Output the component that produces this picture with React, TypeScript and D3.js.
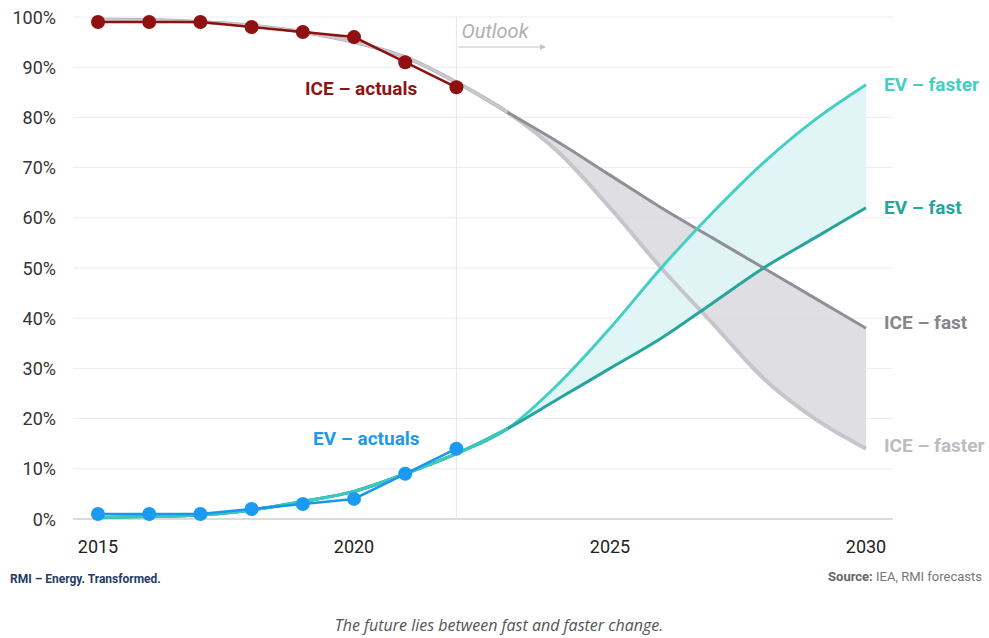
import React from "react";
import * as d3 from "d3";

// Years and market shares (% of new car sales)
const actualYears = [2015, 2016, 2017, 2018, 2019, 2020, 2021, 2022];
const iceActuals = [99, 99, 99, 98, 97, 96, 91, 86];
const evActuals = [1, 1, 1, 2, 3, 4, 9, 14];

const modelYears = [2015, 2016, 2017, 2018, 2019, 2020, 2021, 2022, 2023, 2024, 2025, 2026, 2027, 2028, 2029, 2030];
const iceFast = [99.5, 99.4, 99, 98.3, 97, 95, 92, 87, 81, 75, 68.5, 62, 56, 50, 44, 38];
const iceFaster = [99.5, 99.4, 99, 98.3, 97, 95, 92, 87, 81, 73, 62, 50, 39, 28, 20, 14];
const evFast = [0.3, 0.5, 0.8, 1.8, 3.5, 5.5, 9, 13, 18, 24, 30, 36, 43, 50, 56, 62];
const evFaster = [0.3, 0.5, 0.8, 1.8, 3.5, 5.5, 9, 13, 18, 27, 38, 50, 61, 71, 79.5, 86.5];

const yTicks = [0, 10, 20, 30, 40, 50, 60, 70, 80, 90, 100];
const xTicks = [2015, 2020, 2025, 2030];
const outlookYear = 2022;

const W = 989;
const H = 638;

export default function App() {
  const x = d3.scaleLinear().domain([2015, 2030]).range([98, 866]);
  const y = d3.scaleLinear().domain([0, 100]).range([519, 17]);
  const gridX0 = 73;
  const gridX1 = 893;

  const line = d3
    .line<[number, number]>()
    .x((d) => x(d[0]))
    .y((d) => y(d[1]))
    .curve(d3.curveMonotoneX);
  const lineLinear = d3
    .line<[number, number]>()
    .x((d) => x(d[0]))
    .y((d) => y(d[1]));

  const pairs = (vals: number[], yrs: number[] = modelYears) =>
    yrs.map((yr, i) => [yr, vals[i]] as [number, number]);

  const band = (lo: number[], hi: number[]) =>
    d3
      .area<number>()
      .x((i) => x(modelYears[i]))
      .y0((i) => y(lo[i]))
      .y1((i) => y(hi[i]))
      .curve(d3.curveMonotoneX)(modelYears.map((_, i) => i).filter((i) => modelYears[i] >= 2022)) || "";

  const font = "Roboto, 'Liberation Sans', sans-serif";
  const lastX = x(2030);
  const labelSize = 19;

  return (
    <div style={{ position: "absolute", left: 0, top: 0 }}>
      <svg width={W} height={H} style={{ display: "block", background: "#fff" }} fontFamily={font}>
        {/* horizontal gridlines */}
        {yTicks.map((t) => (
          <line
            key={t}
            x1={gridX0}
            x2={gridX1}
            y1={y(t)}
            y2={y(t)}
            stroke={t === 0 ? "#cfcfcf" : "#ececec"}
            strokeWidth={t === 0 ? 1.5 : 1}
          />
        ))}
        {yTicks.map((t) => (
          <text key={"yl" + t} x={56} y={y(t) + 6.5} textAnchor="end" fontSize={18} fill="#333">
            {t}%
          </text>
        ))}
        {xTicks.map((t) => (
          <text key={"xl" + t} x={x(t)} y={553} textAnchor="middle" fontSize={18} fill="#222">
            {t}
          </text>
        ))}

        {/* outlook divider */}
        <line x1={x(outlookYear)} x2={x(outlookYear)} y1={y(100)} y2={y(0)} stroke="#e6e6e6" strokeWidth={1} />
        <text x={x(outlookYear) + 5} y={38} fontSize={20} fontStyle="italic" fill="#b0b0b0">
          Outlook
        </text>
        <line x1={x(outlookYear) + 2} x2={544} y1={47} y2={47} stroke="#c4c4c4" strokeWidth={1} />
        <path d="M 540 44 L 546 47 L 540 50 Z" fill="#c4c4c4" />

        {/* scenario bands */}
        <path d={band(iceFaster, iceFast)} fill="#d9d9de" opacity={0.85} />
        <path d={band(evFast, evFaster)} fill="#dff4f7" opacity={0.95} />

        {/* ICE scenarios */}
        <path d={line(pairs(iceFaster)) || ""} fill="none" stroke="#c5c5cb" strokeWidth={4} />
        <path d={line(pairs(iceFast)) || ""} fill="none" stroke="#8f8f96" strokeWidth={3} />
        <path
          d={line(pairs(iceFast).filter((d) => d[0] <= 2023)) || ""}
          fill="none"
          stroke="#c8c8ce"
          strokeWidth={3}
        />

        {/* EV scenarios */}
        <path d={line(pairs(evFaster)) || ""} fill="none" stroke="#42d0c5" strokeWidth={3} />
        <path d={line(pairs(evFast)) || ""} fill="none" stroke="#25a59b" strokeWidth={3} />
        <path
          d={line(pairs(evFaster).filter((d) => d[0] <= 2023)) || ""}
          fill="none"
          stroke="#3ec8bd"
          strokeWidth={3}
        />

        {/* actuals */}
        <path d={lineLinear(pairs(iceActuals, actualYears)) || ""} fill="none" stroke="#8e1010" strokeWidth={2.5} />
        {actualYears.map((yr, i) => (
          <circle key={"ia" + yr} cx={x(yr)} cy={y(iceActuals[i])} r={7} fill="#8e1010" />
        ))}
        <path d={lineLinear(pairs(evActuals, actualYears)) || ""} fill="none" stroke="#1a96ee" strokeWidth={2.5} />
        {actualYears.map((yr, i) => (
          <circle key={"ea" + yr} cx={x(yr)} cy={y(evActuals[i])} r={7} fill="#1a9af3" />
        ))}

        {/* series labels */}
        <text x={305} y={95} fontSize={labelSize} fontWeight={700} fill="#8e1414">
          ICE – actuals
        </text>
        <text x={313} y={445} fontSize={labelSize} fontWeight={700} fill="#1e9ae8">
          EV – actuals
        </text>
        <text x={lastX + 18} y={y(evFaster[15]) + 6} fontSize={labelSize} fontWeight={700} fill="#45cfc4">
          EV – faster
        </text>
        <text x={lastX + 18} y={y(evFast[15]) + 6} fontSize={labelSize} fontWeight={700} fill="#25a59b">
          EV – fast
        </text>
        <text x={lastX + 18} y={y(iceFast[15]) + 1} fontSize={labelSize} fontWeight={700} fill="#85858b">
          ICE – fast
        </text>
        <text x={lastX + 18} y={y(iceFaster[15]) + 3} fontSize={labelSize} fontWeight={700} fill="#bcbcc2">
          ICE – faster
        </text>

        {/* footer */}
        <text x={10} y={583} fontSize={12} fontWeight={700} fill="#1f3d66">
          RMI – Energy. Transformed.
        </text>
        <text x={982} y={581} textAnchor="end" fontSize={13} fill="#777">
          <tspan fontWeight={700} fill="#666">Source:</tspan> IEA, RMI forecasts
        </text>
        <text
          x={499}
          y={631}
          textAnchor="middle"
          fontSize={16}
          fontStyle="italic"
          fill="#555"
          fontFamily="'Open Sans', sans-serif"
        >
          The future lies between fast and faster change.
        </text>
      </svg>
    </div>
  );
}
